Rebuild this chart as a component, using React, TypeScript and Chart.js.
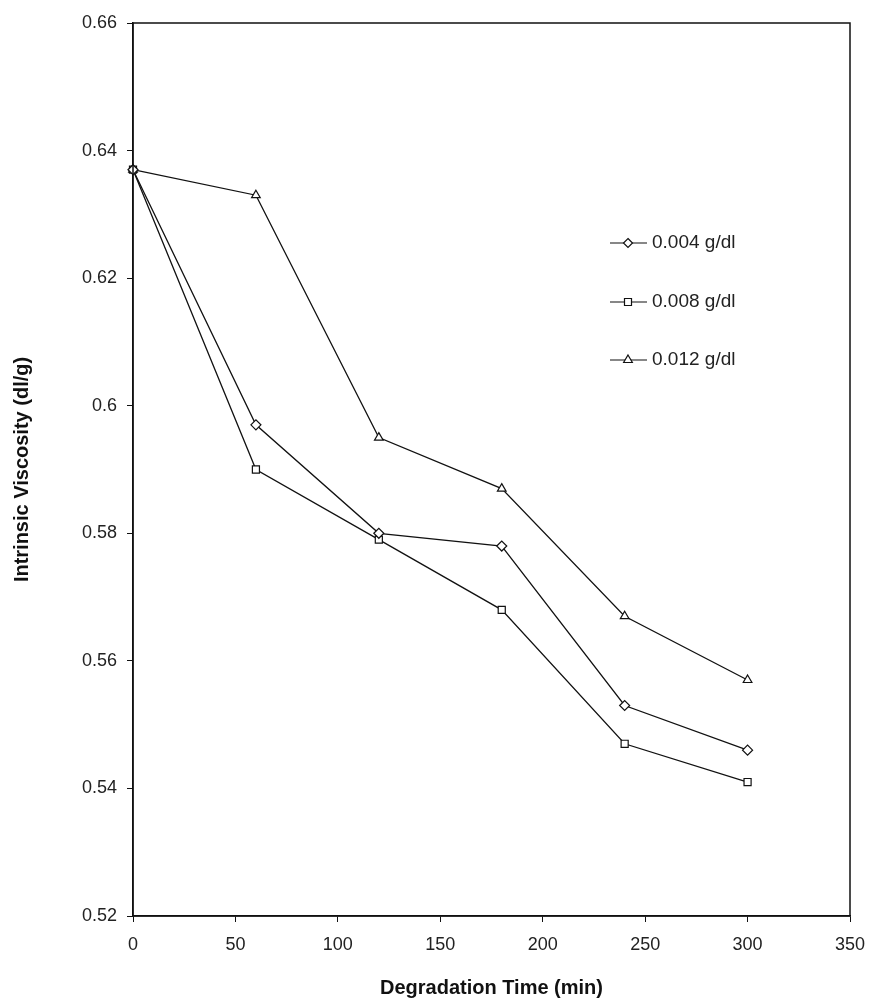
import React, { useEffect, useRef } from "react";
import { Chart, registerables } from "chart.js";

Chart.register(...registerables);

const times = [0, 60, 120, 180, 240, 300];
const series004 = [0.637, 0.597, 0.58, 0.578, 0.553, 0.546];
const series008 = [0.637, 0.59, 0.579, 0.568, 0.547, 0.541];
const series012 = [0.637, 0.633, 0.595, 0.587, 0.567, 0.557];
const seriesLabels = ["0.004 g/dl", "0.008 g/dl", "0.012 g/dl"];
const seriesStyles = ["rectRot", "rect", "triangle"];
const xTitle = "Degradation Time (min)";
const yTitle = "Intrinsic Viscosity (dl/g)";

const FONT = "'Liberation Sans', Arial, sans-serif";
const INK = "#111";

const frameAndLegend = {
  id: "frameAndLegend",
  afterDraw(chart: any) {
    const { ctx, chartArea } = chart;
    ctx.save();
    ctx.strokeStyle = INK;
    ctx.lineWidth = 1.5;
    ctx.strokeRect(chartArea.left, chartArea.top, chartArea.right - chartArea.left, chartArea.bottom - chartArea.top);

    // legend
    const ys = [243, 302, 360];
    const x0 = 610;
    const x1 = 647;
    const mx = 628;
    ctx.font = "19px " + FONT;
    ctx.textBaseline = "middle";
    ctx.textAlign = "left";
    seriesLabels.forEach((lab, i) => {
      const y = ys[i];
      ctx.strokeStyle = INK;
      ctx.lineWidth = 1.2;
      ctx.beginPath();
      ctx.moveTo(x0, y);
      ctx.lineTo(x1, y);
      ctx.stroke();
      ctx.fillStyle = "#fff";
      ctx.beginPath();
      const st = seriesStyles[i];
      if (st === "rectRot") {
        const r = 4.5;
        ctx.moveTo(mx, y - r);
        ctx.lineTo(mx + r, y);
        ctx.lineTo(mx, y + r);
        ctx.lineTo(mx - r, y);
        ctx.closePath();
      } else if (st === "rect") {
        const s = 3.5;
        ctx.rect(mx - s, y - s, 2 * s, 2 * s);
      } else {
        const r = 5;
        ctx.moveTo(mx, y - r);
        ctx.lineTo(mx + r * 0.87, y + r * 0.5);
        ctx.lineTo(mx - r * 0.87, y + r * 0.5);
        ctx.closePath();
      }
      ctx.fill();
      ctx.stroke();
      ctx.fillStyle = "#222";
      ctx.fillText(lab, 652, y);
    });
    ctx.restore();
  },
};

export default function App() {
  const ref = useRef<HTMLCanvasElement | null>(null);

  useEffect(() => {
    document.body.style.margin = "0";
    document.body.style.overflow = "hidden";
    if (!ref.current) return;
    const all = [series004, series008, series012];
    const chart = new Chart(ref.current, {
      type: "line",
      data: {
        datasets: all.map((s, i) => ({
          label: seriesLabels[i],
          data: times.map((t, j) => ({ x: t, y: s[j] })),
          borderColor: INK,
          borderWidth: 1.3,
          backgroundColor: "#fff",
          pointStyle: seriesStyles[i] as any,
          pointRadius: 5,
          pointBorderColor: INK,
          pointBorderWidth: 1.2,
          pointBackgroundColor: "#fff",
          tension: 0,
          clip: false as any,
        })),
      },
      options: {
        responsive: false,
        animation: false,
        devicePixelRatio: 1,
        layout: { padding: { left: 0, top: 23, right: 20, bottom: 0 } },
        plugins: {
          legend: { display: false },
          tooltip: { enabled: false },
        },
        scales: {
          x: {
            type: "linear",
            min: 0,
            max: 350,
            ticks: {
              stepSize: 50,
              color: "#222",
              font: { family: FONT, size: 18 },
              padding: 12,
              maxRotation: 0,
            },
            grid: { drawOnChartArea: false, drawTicks: true, tickLength: 6, color: INK },
            border: { display: true, color: INK, width: 1.5 },
            title: {
              display: true,
              text: xTitle,
              color: "#111",
              font: { family: FONT, size: 20, weight: "bold" },
              padding: { top: 0, bottom: 0 },
            },
            afterFit: (s: any) => {
              s.height = 84;
              s.paddingLeft = 0;
              s.paddingRight = 0;
            },
          },
          y: {
            type: "linear",
            min: 0.52,
            max: 0.66,
            ticks: {
              stepSize: 0.02,
              color: "#222",
              font: { family: FONT, size: 18 },
              padding: 10,
              callback: (v: any) => String(Number(Number(v).toFixed(2))),
            },
            grid: { drawOnChartArea: false, drawTicks: true, tickLength: 6, color: INK },
            border: { display: true, color: INK, width: 1.5 },
            title: {
              display: true,
              text: yTitle,
              color: "#111",
              font: { family: FONT, size: 20, weight: "bold" },
              padding: { top: 10, bottom: 0 },
            },
            afterFit: (s: any) => {
              s.width = 133;
              s.paddingTop = 0;
              s.paddingBottom = 0;
            },
          },
        },
      },
      plugins: [frameAndLegend],
    });
    return () => chart.destroy();
  }, []);

  return (
    <div style={{ width: 870, height: 1000, background: "#fff" }}>
      <canvas ref={ref} width={870} height={1000} style={{ display: "block" }} />
    </div>
  );
}
